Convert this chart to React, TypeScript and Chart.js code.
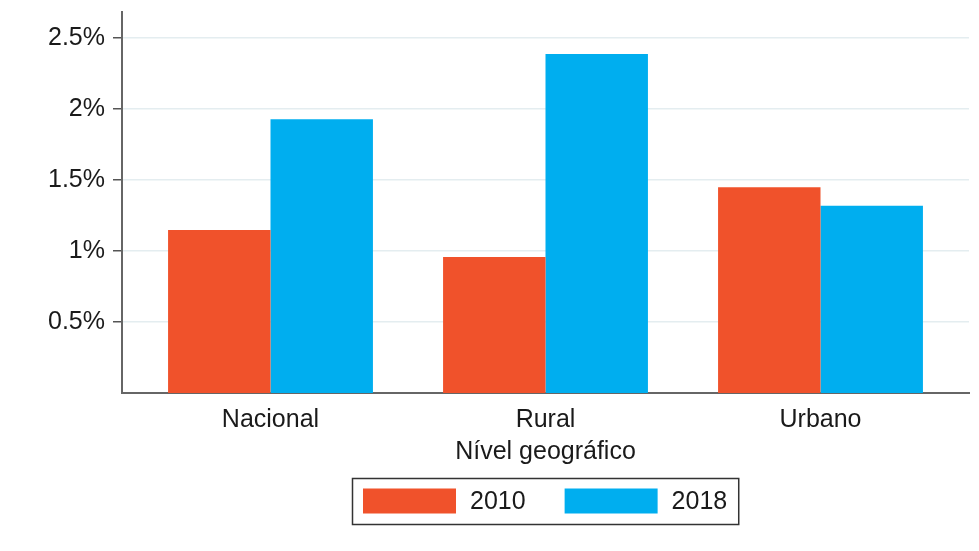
import React, { useEffect, useRef } from "react";
import { Chart, registerables } from "chart.js";

Chart.register(...registerables);

const categories = ["Nacional", "Rural", "Urbano"];
const series2010 = [1.148, 0.958, 1.449];
const series2018 = [1.927, 2.387, 1.319];
const seriesLabels = ["2010", "2018"];
const yTicks = [0.5, 1, 1.5, 2, 2.5];
const xTitle = "Nível geográfico";

const FONT = '"Liberation Sans", Arial, Helvetica, sans-serif';
const FS = 25;
const RED = "#F0522B";
const BLUE = "#00AEEF";
const TEXT = "#1a1a1a";

const boxLegend = {
  id: "boxLegend",
  afterDraw(chart: any) {
    const { ctx, chartArea } = chart;
    ctx.save();
    ctx.font = `${FS}px ${FONT}`;
    const items = chart.data.datasets.map((d: any) => ({
      label: d.label,
      color: d.backgroundColor,
      w: ctx.measureText(d.label).width,
    }));
    const padX = 11;
    const sw = 93;
    const sh = 25;
    const gapText = 14;
    const gapItem = 39;
    const total =
      padX * 2 +
      items.reduce((a: number, it: any) => a + sw + gapText + it.w, 0) +
      gapItem * (items.length - 1);
    const cx = (chartArea.left + chartArea.right) / 2;
    const left = Math.round(cx - total / 2);
    const top = chartArea.bottom + 85;
    const height = 46;
    ctx.strokeStyle = "#333";
    ctx.lineWidth = 1.5;
    ctx.strokeRect(left + 0.5, top + 0.5, total, height);
    let x = left + padX;
    const cy = top + height / 2;
    items.forEach((it: any) => {
      ctx.fillStyle = it.color;
      ctx.fillRect(x, cy - sh / 2, sw, sh);
      x += sw + gapText;
      ctx.fillStyle = TEXT;
      ctx.textAlign = "left";
      ctx.textBaseline = "middle";
      ctx.fillText(it.label, x, cy + 1);
      x += it.w + gapItem;
    });
    ctx.restore();
  },
};

export default function App() {
  const ref = useRef<HTMLCanvasElement | null>(null);

  useEffect(() => {
    document.body.style.margin = "0";
    const canvas = ref.current;
    if (!canvas) return;
    const chart = new Chart(canvas, {
      type: "bar",
      data: {
        labels: categories,
        datasets: [
          {
            label: seriesLabels[0],
            data: series2010,
            backgroundColor: RED,
            borderWidth: 0,
          },
          {
            label: seriesLabels[1],
            data: series2018,
            backgroundColor: BLUE,
            borderWidth: 0,
          },
        ],
      },
      options: {
        animation: false,
        responsive: false,
        devicePixelRatio: 1,
        layout: { padding: { left: 0, top: 12, right: 10, bottom: 0 } },
        plugins: {
          legend: { display: false },
          tooltip: { enabled: false },
        },
        datasets: {
          bar: { categoryPercentage: 0.745, barPercentage: 1 },
        },
        scales: {
          x: {
            type: "category",
            offset: true,
            grid: { display: false, drawTicks: false },
            border: { display: true, color: "#666", width: 2 },
            ticks: {
              padding: 12,
              color: TEXT,
              font: { family: FONT, size: FS },
            },
            title: {
              display: true,
              text: xTitle,
              color: TEXT,
              font: { family: FONT, size: FS },
              padding: { top: 0, bottom: 84 },
            },
            afterFit: (s: any) => {
              s.height = 158;
              s.paddingLeft = 0;
              s.paddingRight = 0;
            },
            afterUpdate: (s: any) => {
              const extra = 0.04;
              s._startValue -= extra;
              s._valueRange += 2 * extra;
            },
          },
          y: {
            type: "linear",
            min: 0,
            max: 2.683,
            grid: {
              color: "#e4edf0",
              lineWidth: 1.5,
              tickColor: "#555",
              tickLength: 9,
              tickWidth: 1.5,
            },
            border: { display: true, color: "#666", width: 2 },
            ticks: {
              padding: 8,
              color: TEXT,
              font: { family: FONT, size: FS },
              callback: (v: any) => `${v}%`,
            },
            afterBuildTicks: (s: any) => {
              s.ticks = yTicks.map((v) => ({ value: v }));
            },
            afterFit: (s: any) => {
              s.width = 122;
              s.paddingTop = 0;
              s.paddingBottom = 0;
            },
          },
        },
      },
      plugins: [boxLegend],
    });
    return () => chart.destroy();
  }, []);

  return (
    <div style={{ position: "absolute", left: 0, top: 0, width: 979, height: 551, background: "#fff" }}>
      <canvas ref={ref} width={979} height={551} />
    </div>
  );
}
